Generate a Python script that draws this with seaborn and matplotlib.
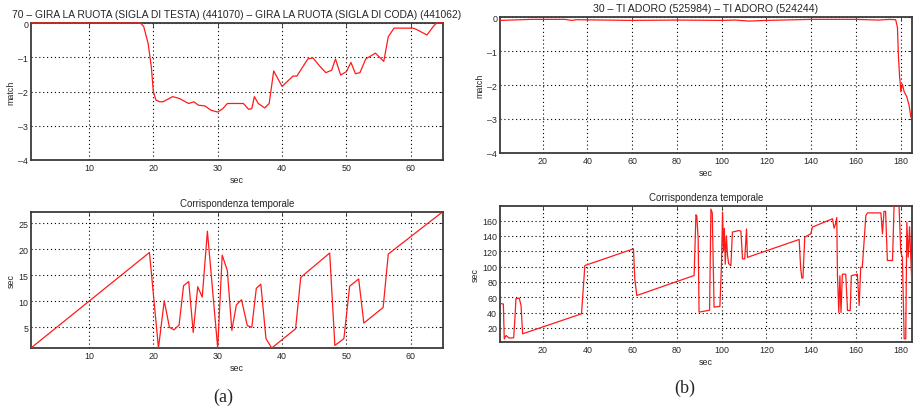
import numpy as np
import pandas as pd
import matplotlib
matplotlib.use("Agg")
import matplotlib.pyplot as plt
import seaborn as sns

# ---------------- data ----------------
title_a = "70 \u2013 GIRA LA RUOTA (SIGLA DI TESTA) (441070) \u2013 GIRA LA RUOTA (SIGLA DI CODA) (441062)"
title_b = "30 \u2013 TI ADORO (525984) \u2013 TI ADORO (524244)"
subtitle = "Corrispondenza temporale"

a_match_x = [1, 5, 10, 15, 18, 18.5, 19.2, 19.7, 20, 20.4, 21, 21.5, 23, 24, 25.5, 26.3, 27, 28, 29, 30,
             30.8, 31.5, 34, 34.8, 35.3, 35.7, 36.3, 37.3, 38, 38.7, 40, 41.7, 42.3, 44, 44.8, 45.8, 46.8,
             47.7, 48.3, 49.1, 50, 50.7, 51.4, 52.1, 53, 54.5, 55.8, 56.5, 57.4, 60.3, 60.8, 62.5, 63.5, 64, 65]
a_match_y = [0, 0, 0, 0, 0, -0.1, -0.6, -1.3, -2.0, -2.25, -2.3, -2.3, -2.15, -2.2, -2.35, -2.3, -2.4, -2.42,
             -2.55, -2.6, -2.5, -2.35, -2.35, -2.52, -2.5, -2.15, -2.35, -2.48, -2.35, -1.4, -1.85, -1.55, -1.55,
             -1.05, -1.02, -1.25, -1.45, -1.38, -1.05, -1.52, -1.42, -1.15, -1.48, -1.45, -1.05, -0.88, -1.12,
             -0.4, -0.15, -0.15, -0.18, -0.35, -0.1, 0, 0]

a_time_x = [1, 19.4, 20.8, 21.7, 22.5, 23.2, 24, 24.7, 25.5, 26.2, 26.9, 27.6, 28.4, 30, 30.7, 31.5, 32.2,
            32.9, 33.7, 34.6, 35.3, 36, 36.7, 37.5, 38.4, 42.1, 42.9, 47.4, 48.2, 49.6, 50.5, 51.9, 52.7,
            55.7, 56.5, 64.7, 65]
a_time_y = [1, 19.4, 1, 10.1, 5.0, 4.5, 5.4, 13.0, 13.8, 4.0, 12.8, 10.8, 23.5, 1, 18.9, 15.9, 4.4,
            9.3, 10.3, 5.3, 5.0, 12.5, 13.3, 2.8, 1.0, 4.7, 14.6, 19.3, 1.5, 2.8, 12.9, 14.3, 5.8,
            8.8, 19.1, 27, 27]

b_match_x = [1, 15, 30, 33, 35, 60, 80, 100, 106, 112, 120, 140, 160, 170, 175, 177.7, 178.5, 178.9,
             179.5, 179.6, 180, 180.7, 181.5, 182.7, 183.7, 184.5]
b_match_y = [-0.1, -0.07, -0.07, -0.1, -0.08, -0.1, -0.09, -0.1, -0.09, -0.12, -0.1, -0.07, -0.07,
             -0.09, -0.07, -0.08, -0.3, -1.1, -1.8, -1.83, -2.2, -1.97, -2.2, -2.35, -2.6, -2.95]

b_time_x = [1, 2.5, 2.9, 3.7, 5.1, 7.1, 7.7, 8.1, 9.6, 10.4, 11.1, 37.4, 38.9, 60.6, 61.2, 62.1, 87.7,
            88.5, 88.9, 89.5, 89.9, 94.6, 95.2, 95.8, 96.6, 99.2, 99.9, 100.4, 100.8, 101.2, 101.6, 102.1,
            102.6, 103.1, 104.1, 104.8, 107.8, 108.6, 109.3, 110.3, 111.1, 111.5, 134.6, 135.3, 135.8,
            136.3, 137.1, 139.8, 140.5, 149.5, 150.2, 150.8, 151.4, 151.7, 152.3, 152.8, 153.3, 153.9,
            155.4, 156.2, 157.4, 157.9, 160.6, 161.4, 162.1, 162.8, 164.4, 165.1, 171.1, 171.8, 172.5,
            173.2, 174.0, 176.3, 177.0, 179.2, 180.0, 180.7, 181.5, 182.2, 182.7, 183.3, 183.9, 184.9]
b_time_y = [52, 51, 5.6, 10, 6.6, 7, 34, 57.9, 58.8, 49, 12.2, 38.3, 101.3, 123.1, 84, 62.2, 88.3,
            167.5, 166, 136, 40.5, 43, 175, 170, 47, 48, 101, 171, 120, 150, 103, 140, 115,
            104, 101, 145, 147, 146, 110, 110, 149, 112, 135.3, 97, 85, 85, 138.4, 142.7, 151.5,
            162.3, 150, 155, 164, 90, 40, 88, 40, 90, 90, 42.6, 42.6, 88, 90, 49, 99, 99, 166.6,
            170, 170, 142.7, 172, 172, 107.9, 107.9, 180, 180, 118.8, 112, 5.6, 5.6, 158, 112, 152, 79.6]

a_xticks = [10, 20, 30, 40, 50, 60]
b_xticks = [20, 40, 60, 80, 100, 120, 140, 160, 180]
match_yticks = [0, -1, -2, -3, -4]
a_time_yticks = [5, 10, 15, 20, 25]
b_time_yticks = [20, 40, 60, 80, 100, 120, 140, 160]

# ---------------- style ----------------
sns.set_style("white")
plt.rcParams['font.family'] = ['Liberation Sans', 'DejaVu Sans']

W, H = 913, 410
fig = plt.figure(figsize=(W / 100, H / 100), dpi=100)


def box(l, t, r, b):
    return [l / W, 1 - b / H, (r - l) / W, (b - t) / H]


def style(ax, xlim, ylim, xticks, yticks, ylabel, title, title_fs):
    ax.set_xlim(*xlim)
    ax.set_ylim(*ylim)
    ax.set_xticks(xticks)
    ax.set_yticks(yticks)
    ax.set_yticklabels([("\u2013" + str(-v)) if v < 0 else str(v) for v in yticks])
    ax.grid(True, color='black', linestyle=(0, (1, 2.5)), linewidth=0.8)
    ax.tick_params(axis='both', labelsize=6.4, direction='in', length=3, width=0.6,
                   top=True, right=True, pad=2)
    for s in ax.spines.values():
        s.set_color('#3a3a3a')
        s.set_linewidth(1.3)
        s.set_zorder(2.5)
    ax.set_xlabel("sec", fontsize=6.4, labelpad=2)
    ax.set_ylabel(ylabel, fontsize=6.4, labelpad=2)
    ax.set_title(title, fontsize=title_fs, pad=4)


ax1 = fig.add_axes(box(31, 24, 443, 161))
ax2 = fig.add_axes(box(31, 213, 443, 349))
ax3 = fig.add_axes(box(500, 18, 912, 154))
ax4 = fig.add_axes(box(500, 207, 912, 343))

line_kw = dict(color='#ff1a1a', linewidth=0.9, estimator=None, sort=False)

sns.lineplot(x=a_match_x, y=a_match_y, ax=ax1, **line_kw)
sns.lineplot(x=a_time_x, y=a_time_y, ax=ax2, **line_kw)
sns.lineplot(x=b_match_x, y=b_match_y, ax=ax3, **line_kw)
sns.lineplot(x=b_time_x, y=b_time_y, ax=ax4, **line_kw)

style(ax1, (1, 65), (-4, 0), a_xticks, match_yticks, "match", title_a, 7.4)
style(ax2, (1, 65), (1, 27.2), a_xticks, a_time_yticks, "sec", subtitle, 7.0)
style(ax3, (1, 185), (-4, 0), b_xticks, match_yticks, "match", title_b, 7.6)
style(ax4, (1, 185), (1.5, 179), b_xticks, b_time_yticks, "sec", subtitle, 7.0)

for ax in (ax1, ax2, ax3, ax4):
    for ln in ax.lines:
        ln.set_zorder(3)
# the match curve of (a) lies on the top edge: keep it visible over the frame
for ln in ax1.lines:
    ln.set_clip_on(False)

fig.text(223 / W, 1 - 397 / H, "(a)", fontsize=13, family=['Liberation Serif', 'DejaVu Serif'],
         ha='center', va='center')
fig.text(685 / W, 1 - 388 / H, "(b)", fontsize=13, family=['Liberation Serif', 'DejaVu Serif'],
         ha='center', va='center')

fig.savefig("out.png", dpi=100)
